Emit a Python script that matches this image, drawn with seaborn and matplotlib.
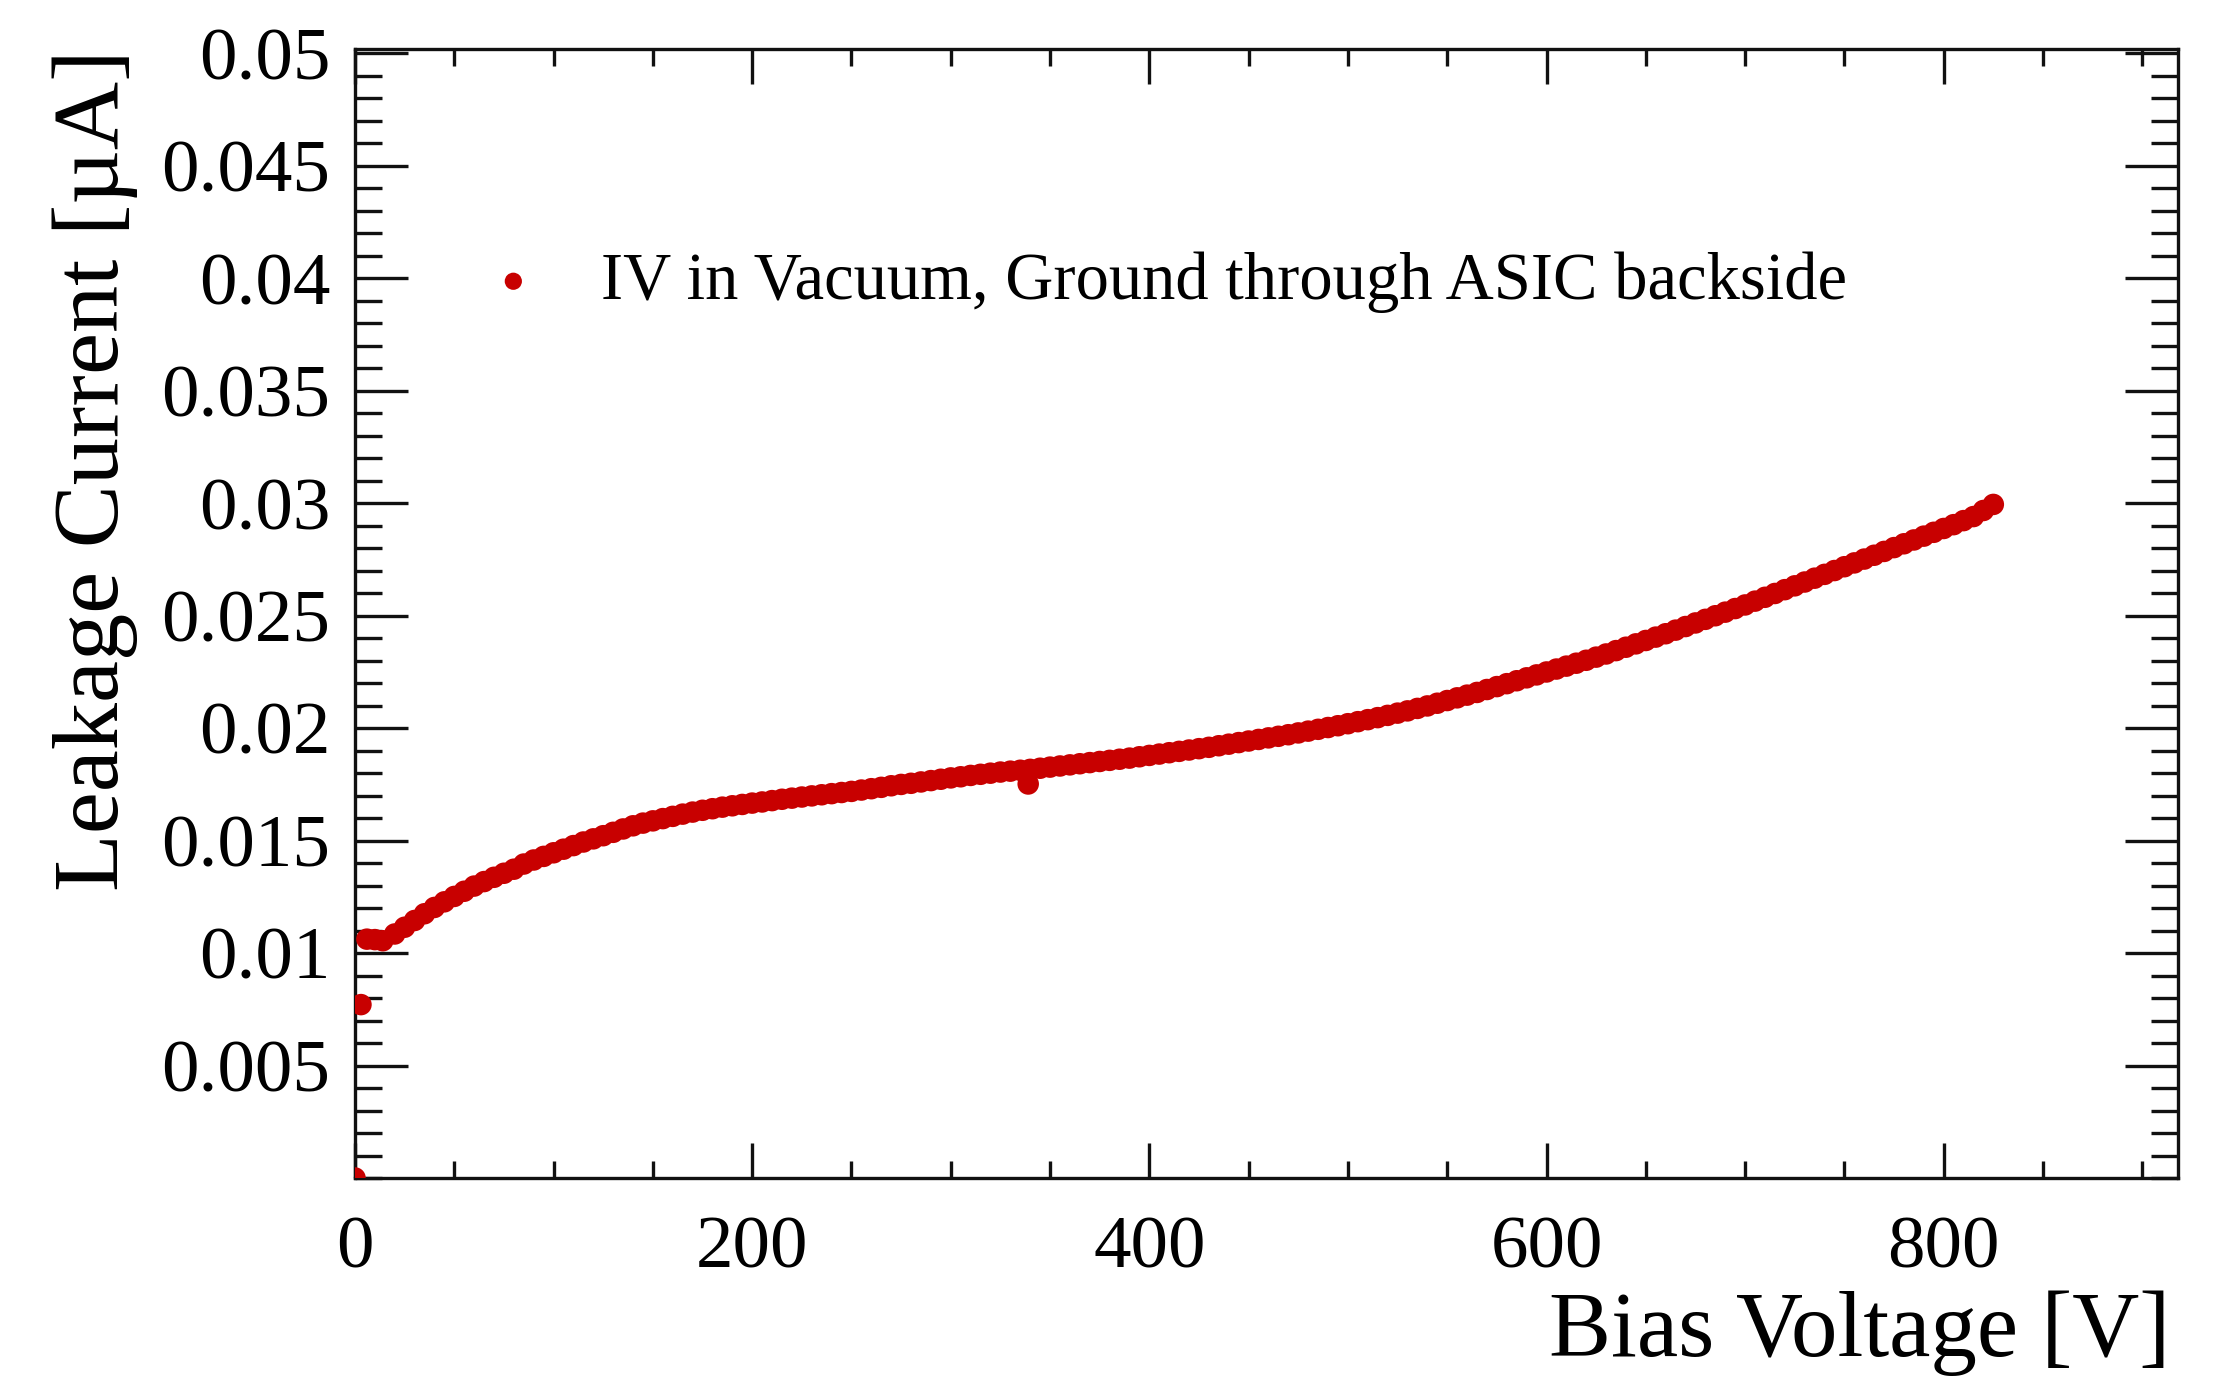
import numpy as np
import pandas as pd
import matplotlib
matplotlib.use("Agg")
import matplotlib.pyplot as plt
import seaborn as sns
from matplotlib.ticker import MultipleLocator, FuncFormatter

# ---------------- data ----------------
bias_voltage = [0, 3, 6, 10, 14,
    20, 25, 30, 35, 40, 45, 50, 55, 60, 65, 70, 75, 80, 85, 90, 95,
    100, 105, 110, 115, 120, 125, 130, 135, 140, 145, 150, 155, 160, 165, 170, 175, 180, 185, 190, 195,
    200, 205, 210, 215, 220, 225, 230, 235, 240, 245, 250, 255, 260, 265, 270, 275, 280, 285, 290, 295,
    300, 305, 310, 315, 320, 325, 330, 335, 339, 340, 345, 350, 355, 360, 365, 370, 375, 380, 385, 390, 395,
    400, 405, 410, 415, 420, 425, 430, 435, 440, 445, 450, 455, 460, 465, 470, 475, 480, 485, 490, 495,
    500, 505, 510, 515, 520, 525, 530, 535, 540, 545, 550, 555, 560, 565, 570, 575, 580, 585, 590, 595,
    600, 605, 610, 615, 620, 625, 630, 635, 640, 645, 650, 655, 660, 665, 670, 675, 680, 685, 690, 695,
    700, 705, 710, 715, 720, 725, 730, 735, 740, 745, 750, 755, 760, 765, 770, 775, 780, 785, 790, 795,
    800, 805, 810, 815, 820, 825]

leakage_current = [0.0, 0.00771, 0.01062, 0.01060, 0.01055,
    0.01085, 0.01115, 0.01145, 0.01175, 0.01203, 0.01228, 0.01252, 0.01275, 0.01298, 0.01318, 0.01337, 0.01355, 0.01373, 0.01396, 0.01414, 0.01430,
    0.01446, 0.01462, 0.01478, 0.01494, 0.01508, 0.01522, 0.01537, 0.01552, 0.01566, 0.01578, 0.01588, 0.01598, 0.01608, 0.01618, 0.01627, 0.01635, 0.01642, 0.01649, 0.01655, 0.01661,
    0.01667, 0.01672, 0.01678, 0.01684, 0.01689, 0.01694, 0.01699, 0.01704, 0.01709, 0.01714, 0.01719, 0.01725, 0.01731, 0.01737, 0.01744, 0.01750, 0.01755, 0.01761, 0.01767, 0.01773,
    0.01779, 0.01784, 0.01790, 0.01795, 0.01800, 0.01805, 0.01809, 0.01813, 0.01752, 0.01817, 0.01822, 0.01827, 0.01832, 0.01837, 0.01842, 0.01847, 0.01852, 0.01857, 0.01862, 0.01867, 0.01873,
    0.01879, 0.01885, 0.01891, 0.01897, 0.01903, 0.01909, 0.01915, 0.01922, 0.01929, 0.01936, 0.01943, 0.01950, 0.01957, 0.01964, 0.01971, 0.01979, 0.01987, 0.01995, 0.02003, 0.02011,
    0.02020, 0.02029, 0.02038, 0.02047, 0.02057, 0.02067, 0.02077, 0.02088, 0.02099, 0.02111, 0.02123, 0.02135, 0.02147, 0.02159, 0.02172, 0.02185, 0.02198, 0.02211, 0.02224, 0.02237,
    0.02250, 0.02263, 0.02276, 0.02289, 0.02302, 0.02316, 0.02330, 0.02345, 0.02360, 0.02375, 0.02390, 0.02405, 0.02420, 0.02436, 0.02452, 0.02468, 0.02484, 0.02500, 0.02516, 0.02532,
    0.02548, 0.02565, 0.02582, 0.02599, 0.02616, 0.02633, 0.02650, 0.02667, 0.02684, 0.02701, 0.02718, 0.02735, 0.02752, 0.02769, 0.02786, 0.02803, 0.02820, 0.02837, 0.02854, 0.02871,
    0.02888, 0.02905, 0.02923, 0.02941, 0.02968, 0.02995]

series_label = "IV in Vacuum, Ground through ASIC backside"
x_label = "Bias Voltage [V]"
y_label = "Leakage Current [µA]"
x_tick_values = [0, 200, 400, 600, 800]
y_tick_values = [0.005, 0.01, 0.015, 0.02, 0.025, 0.03, 0.035, 0.04, 0.045, 0.05]

df = pd.DataFrame({"V": bias_voltage, "I": leakage_current})

# ---------------- style ----------------
sns.set_theme(style="ticks")
plt.rcParams["font.family"] = ["Liberation Serif", "DejaVu Serif"]
for k in ["text.color", "axes.labelcolor", "xtick.labelcolor", "ytick.labelcolor"]:
    plt.rcParams[k] = "black"

W, H = 2224, 1378
fig = plt.figure(figsize=(W / 100, H / 100), dpi=100)
L, R, T, B = 355, 2178, 49, 1178
ax = fig.add_axes([L / W, 1 - B / H, (R - L) / W, (B - T) / H])

red = "#c80000"
sns.scatterplot(data=df, x="V", y="I", ax=ax, color=red, s=240,
                linewidth=0, edgecolor="none", label=series_label, zorder=3)

ax.set_xlim(0, 918)
ax.set_ylim(0, 0.0502)

ax.set_xticks(x_tick_values)
ax.xaxis.set_minor_locator(MultipleLocator(50))
ax.set_yticks(y_tick_values)
ax.yaxis.set_minor_locator(MultipleLocator(0.001))
ax.yaxis.set_major_formatter(FuncFormatter(lambda v, p: f"{v:g}"))
ax.xaxis.set_major_formatter(FuncFormatter(lambda v, p: f"{v:g}"))

axis_col = "#111111"
lw = 2.4
for sp in ax.spines.values():
    sp.set_linewidth(lw)
    sp.set_color(axis_col)
    sp.set_visible(True)

ax.tick_params(axis="x", which="major", direction="in", length=25, width=lw,
               color=axis_col, top=True, bottom=True, labelsize=54, pad=27,
               labelcolor="black")
ax.tick_params(axis="x", which="minor", direction="in", length=12.5, width=lw,
               color=axis_col, top=True, bottom=True)
ax.tick_params(axis="y", which="major", direction="in", length=38, width=lw,
               color=axis_col, left=True, right=True, labelsize=54, pad=18,
               labelcolor="black")
ax.tick_params(axis="y", which="minor", direction="in", length=19.5, width=lw,
               color=axis_col, left=True, right=True)

ax.set_xlabel(x_label, fontsize=67, loc="right", color="black")
ax.xaxis.set_label_coords((2170 - L) / (R - L), (B - 1291) / (B - T))
ax.set_ylabel(y_label, fontsize=68, loc="top", color="black")
ax.yaxis.set_label_coords((138 - L) / (R - L), 1.0)

fs_leg = 48
leg = ax.legend(loc="center left",
                bbox_to_anchor=((480 - L) / (R - L), (B - 282) / (B - T)),
                frameon=False, fontsize=fs_leg, handlelength=1.0,
                handletextpad=0.82, borderpad=0, borderaxespad=0,
                scatterpoints=1, markerscale=0.8)
for t in leg.get_texts():
    t.set_color("black")

fig.savefig("out.png", dpi=100, facecolor="white")
